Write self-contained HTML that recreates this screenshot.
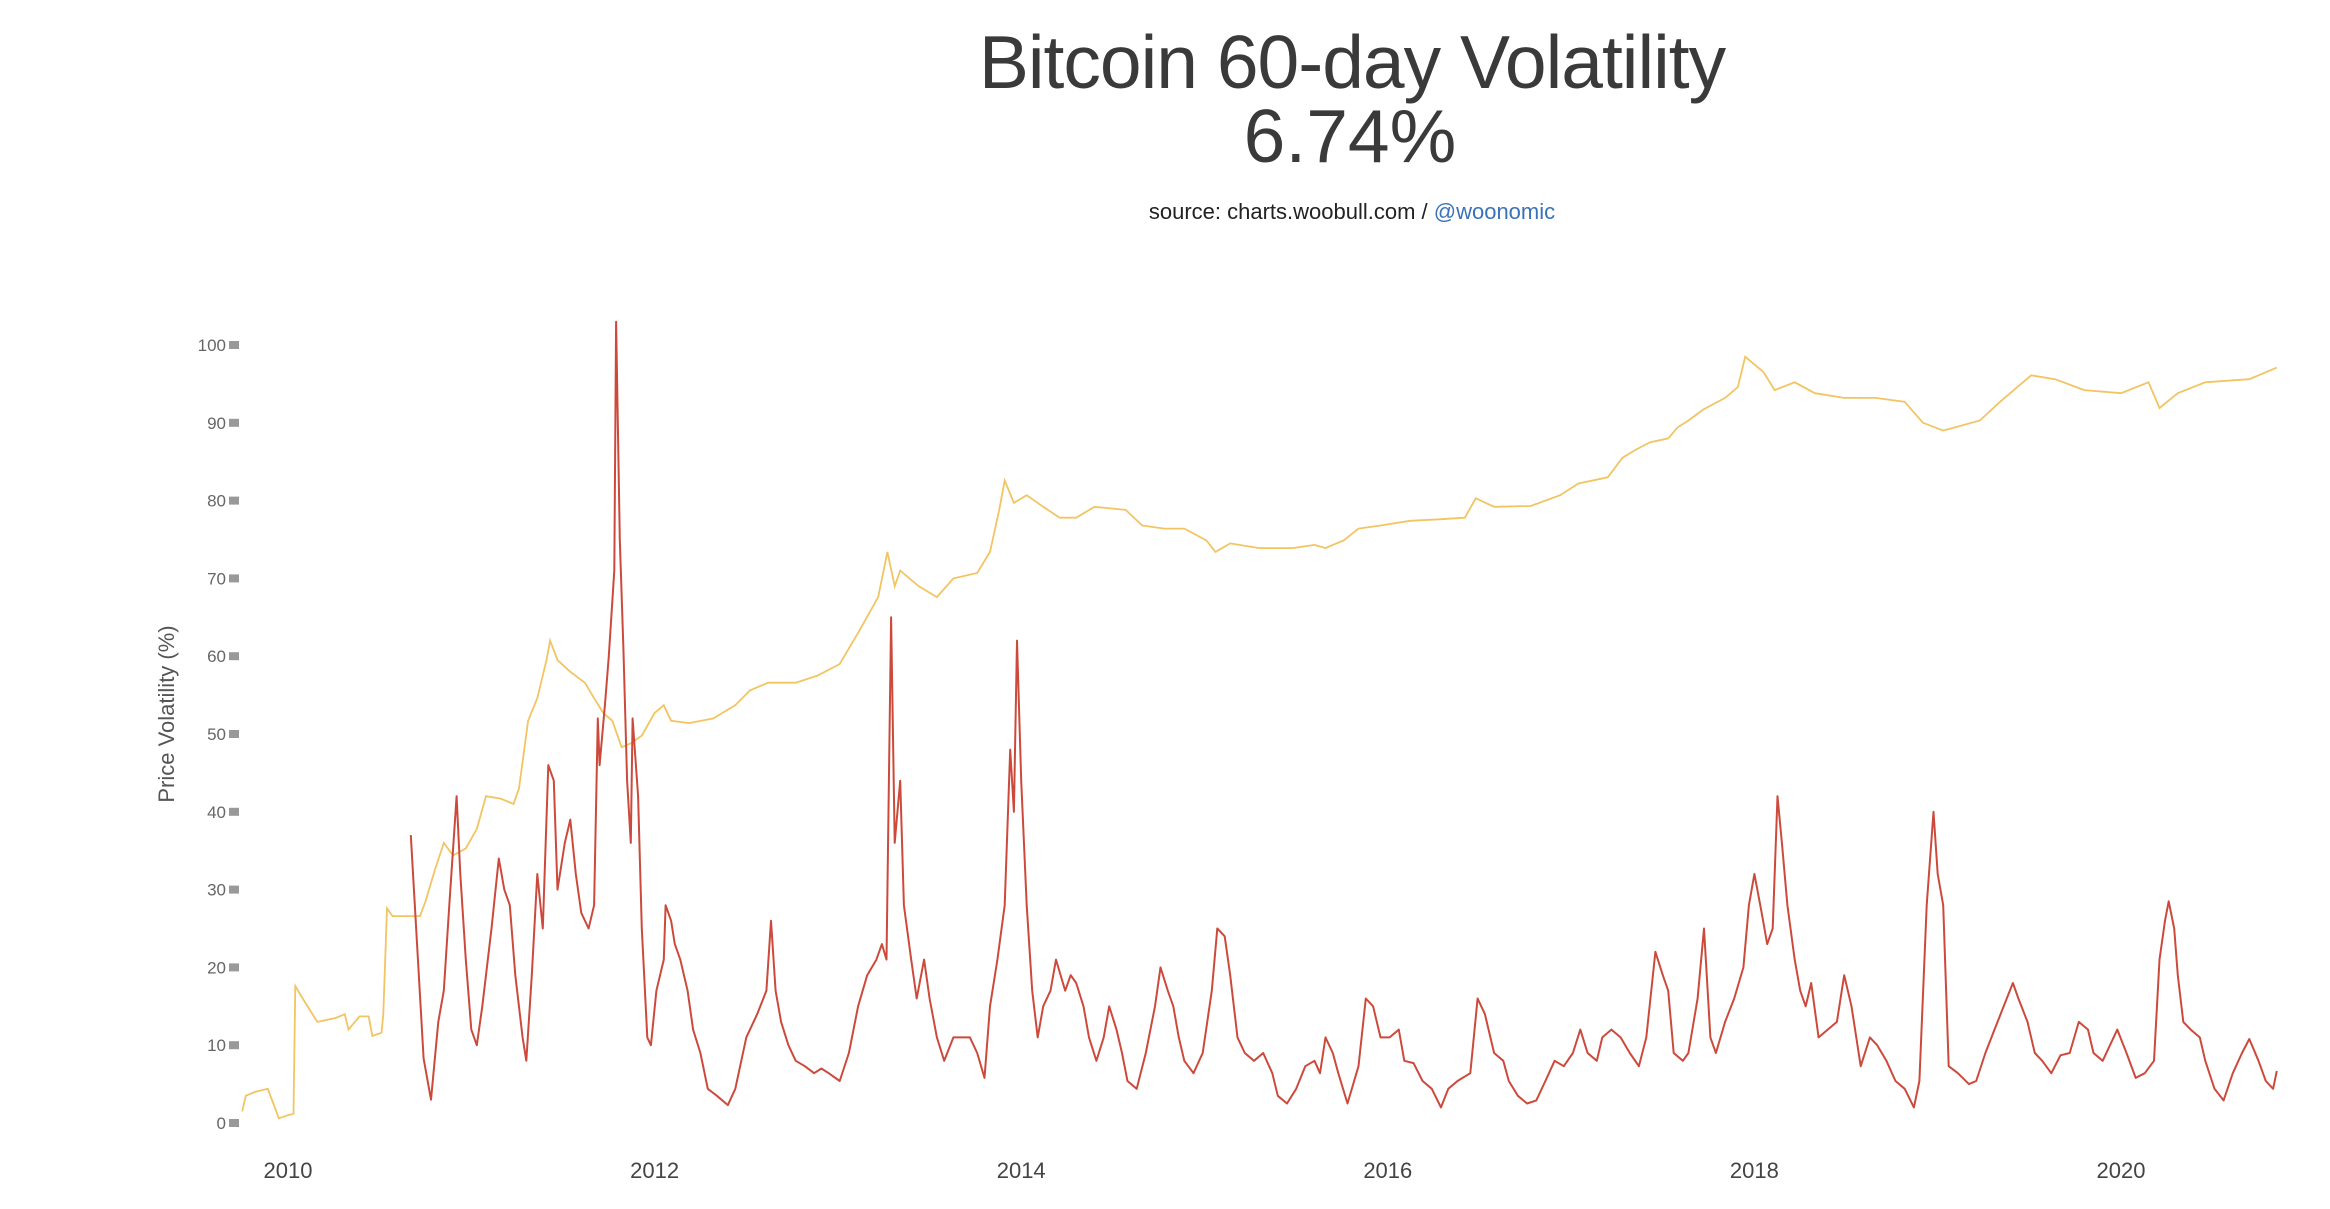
<!DOCTYPE html>
<html><head><meta charset="utf-8"><style>
body{margin:0;background:#fff;width:2330px;height:1204px;overflow:hidden;font-family:"Liberation Sans",sans-serif}
</style></head><body>
<svg width="2330" height="1204">
<text x="1352" y="88" text-anchor="middle" font-size="75" fill="#3a3a3a" style="letter-spacing:-1px">Bitcoin 60-day Volatility</text>
<text x="1350" y="162" text-anchor="middle" font-size="75" fill="#3a3a3a">6.74%</text>
<text x="1352" y="219" text-anchor="middle" font-size="22" fill="#222">source: charts.woobull.com / <tspan fill="#3a72b8">@woonomic</tspan></text>
<text transform="translate(174,714) rotate(-90)" text-anchor="middle" font-size="22" fill="#555">Price Volatility (%)</text>
<g id="yaxis"></g>
<g id="xaxis"></g>
<path id="yellow" fill="none" stroke="#f2c462" stroke-width="1.8"/>
<path id="red" fill="none" stroke="#cc4a3c" stroke-width="2" stroke-linejoin="round"/>
</svg>
<script>
const yTicks=[0,10,20,30,40,50,60,70,80,90,100];
const xTicks=[2010,2012,2014,2016,2018,2020];
const redDates=[2010.67,2010.74,2010.78,2010.82,2010.85,2010.88,2010.92,2010.94,2010.97,2011.00,2011.03,2011.06,2011.11,2011.15,2011.18,2011.21,2011.24,2011.28,2011.30,2011.33,2011.36,2011.39,2011.42,2011.45,2011.47,2011.51,2011.54,2011.57,2011.60,2011.64,2011.67,2011.69,2011.70,2011.73,2011.75,2011.78,2011.79,2011.81,2011.83,2011.85,2011.87,2011.88,2011.91,2011.93,2011.96,2011.98,2012.01,2012.05,2012.06,2012.09,2012.11,2012.14,2012.18,2012.21,2012.25,2012.29,2012.34,2012.40,2012.44,2012.50,2012.56,2012.61,2012.635,2012.66,2012.69,2012.73,2012.77,2012.82,2012.87,2012.91,2012.95,2013.01,2013.06,2013.11,2013.16,2013.21,2013.24,2013.265,2013.29,2013.31,2013.34,2013.36,2013.40,2013.43,2013.47,2013.50,2013.54,2013.58,2013.63,2013.67,2013.72,2013.76,2013.80,2013.83,2013.87,2013.91,2013.94,2013.96,2013.977,2014.00,2014.03,2014.06,2014.09,2014.12,2014.16,2014.19,2014.24,2014.27,2014.30,2014.34,2014.37,2014.41,2014.45,2014.48,2014.52,2014.55,2014.58,2014.63,2014.68,2014.73,2014.76,2014.80,2014.83,2014.86,2014.89,2014.94,2014.99,2015.04,2015.07,2015.11,2015.14,2015.18,2015.22,2015.27,2015.32,2015.37,2015.40,2015.45,2015.50,2015.55,2015.60,2015.63,2015.66,2015.70,2015.73,2015.78,2015.84,2015.88,2015.92,2015.96,2016.01,2016.06,2016.09,2016.14,2016.19,2016.24,2016.29,2016.33,2016.38,2016.45,2016.49,2016.53,2016.58,2016.63,2016.66,2016.71,2016.76,2016.81,2016.86,2016.91,2016.96,2017.01,2017.05,2017.09,2017.14,2017.17,2017.22,2017.27,2017.32,2017.37,2017.41,2017.46,2017.50,2017.53,2017.56,2017.61,2017.64,2017.69,2017.725,2017.76,2017.79,2017.84,2017.89,2017.94,2017.97,2018.00,2018.04,2018.07,2018.10,2018.126,2018.15,2018.18,2018.22,2018.25,2018.28,2018.31,2018.35,2018.40,2018.45,2018.49,2018.53,2018.58,2018.63,2018.67,2018.72,2018.77,2018.82,2018.87,2018.90,2018.94,2018.977,2019.00,2019.03,2019.06,2019.11,2019.17,2019.21,2019.26,2019.31,2019.36,2019.41,2019.44,2019.49,2019.53,2019.57,2019.62,2019.67,2019.72,2019.77,2019.82,2019.85,2019.90,2019.94,2019.98,2020.03,2020.08,2020.13,2020.18,2020.21,2020.24,2020.26,2020.29,2020.31,2020.34,2020.38,2020.43,2020.46,2020.51,2020.56,2020.61,2020.66,2020.70,2020.75,2020.79,2020.83,2020.85];
const redValues=[37,8.3,3,13,17,28,42,32,21,12,10,15,25,34,30,28,19,11,8,19,32,25,46,44,30,36,39,32,27,25,28,52,46,54,60,71,103,75,61,44,36,52,42,25,11,10,17,21,28,26,23,21,17,12,9,4.4,3.5,2.3,4.4,11,14,17,26,17,13,10,8,7.3,6.4,7,6.4,5.4,9,15,19,21,23,21,65,36,44,28,21,16,21,16,11,8,11,11,11,9,5.8,15,21,28,48,40,62,44,28,17,11,15,17,21,17,19,18,15,11,8,11,15,12,9,5.4,4.4,9,15,20,17,15,11,8,6.4,9,17,25,24,19,11,9,8,9,6.4,3.5,2.5,4.4,7.3,8,6.4,11,9,6.4,2.5,7.3,16,15,11,11,12,8,7.7,5.4,4.4,2,4.4,5.4,6.4,16,14,9,8,5.4,3.5,2.5,2.9,5.4,8,7.3,9,12,9,8,11,12,11,9,7.3,11,22,19,17,9,8,9,16,25,11,9,13,16,20,28,32,27,23,25,42,36,28,21,17,15,18,11,12,13,19,15,7.3,11,10,8,5.4,4.4,2,5.4,28,40,32,28,7.3,6.4,5,5.4,9,12,15,18,16,13,9,8,6.4,8.7,9,13,12,9,8,10,12,9,5.8,6.4,8,21,26,28.5,25,19,13,12,11,8,4.4,2.9,6.4,9,10.8,8,5.4,4.4,6.7];
const yelDates=[2009.75,2009.77,2009.82,2009.89,2009.92,2009.95,2010.00,2010.03,2010.04,2010.08,2010.16,2010.26,2010.31,2010.33,2010.39,2010.44,2010.46,2010.51,2010.52,2010.54,2010.57,2010.64,2010.72,2010.75,2010.80,2010.85,2010.90,2010.97,2011.03,2011.08,2011.16,2011.23,2011.26,2011.31,2011.36,2011.41,2011.43,2011.47,2011.54,2011.62,2011.67,2011.72,2011.77,2011.82,2011.87,2011.93,2012.00,2012.05,2012.09,2012.19,2012.32,2012.44,2012.52,2012.62,2012.77,2012.89,2013.01,2013.11,2013.22,2013.27,2013.31,2013.34,2013.44,2013.54,2013.63,2013.76,2013.83,2013.88,2013.91,2013.96,2014.03,2014.12,2014.21,2014.30,2014.40,2014.57,2014.66,2014.78,2014.89,2015.01,2015.06,2015.14,2015.30,2015.48,2015.60,2015.66,2015.76,2015.84,2015.96,2016.12,2016.28,2016.42,2016.48,2016.58,2016.78,2016.94,2017.04,2017.20,2017.28,2017.35,2017.43,2017.53,2017.58,2017.64,2017.72,2017.84,2017.91,2017.95,2017.99,2018.05,2018.11,2018.22,2018.33,2018.49,2018.66,2018.82,2018.92,2019.03,2019.23,2019.34,2019.51,2019.64,2019.80,2020.00,2020.15,2020.21,2020.31,2020.46,2020.70,2020.85];
const yelValues=[1.5,3.5,4,4.4,2.5,0.6,1,1.2,17.6,16,13,13.5,14,12,13.7,13.7,11.2,11.6,14,27.6,26.6,26.6,26.6,28.5,32.4,36,34.4,35.3,37.8,42,41.7,41,43,51.7,54.6,59.5,62,59.5,58,56.6,54.6,52.7,51.7,48.3,48.8,49.8,52.7,53.7,51.7,51.4,52,53.7,55.6,56.6,56.6,57.5,59,63,67.6,73.4,69,71,69,67.6,70,70.7,73.4,78.8,82.6,79.7,80.7,79.2,77.8,77.8,79.2,78.8,76.8,76.4,76.4,74.9,73.4,74.5,73.9,73.9,74.3,73.9,74.9,76.4,76.8,77.4,77.6,77.8,80.3,79.2,79.3,80.7,82.2,83,85.5,86.5,87.5,88,89.4,90.3,91.7,93.2,94.6,98.5,97.7,96.5,94.2,95.2,93.8,93.2,93.2,92.7,90,89,90.3,92.7,96.1,95.6,94.2,93.8,95.2,91.9,93.8,95.2,95.6,97.1];
const X=t=>288+(t-2010)*183.3, Y=v=>1123-v*7.78;
const NS='http://www.w3.org/2000/svg';
const ya=document.getElementById('yaxis'), xa=document.getElementById('xaxis');
yTicks.forEach(v=>{
 const t=document.createElementNS(NS,'text');
 
 
 t.setAttribute('x',226);t.setAttribute('y',Y(v)+6);t.setAttribute('text-anchor','end');
 t.setAttribute('font-size','17');t.setAttribute('fill','#666');t.textContent=v;ya.appendChild(t);
 const r=document.createElementNS(NS,'rect');
 
 
 r.setAttribute('x',229);r.setAttribute('y',Y(v)-4);r.setAttribute('width',10);r.setAttribute('height',8);r.setAttribute('fill','#999');ya.appendChild(r);
});
xTicks.forEach(v=>{
 const t=document.createElementNS(NS,'text');
 
 
 t.setAttribute('x',X(v));t.setAttribute('y',1178);t.setAttribute('text-anchor','middle');
 t.setAttribute('font-size','22');t.setAttribute('fill','#444');t.textContent=v;xa.appendChild(t);
});
const path=(d,v)=>d.map((t,i)=>(i?'L':'M')+X(t).toFixed(1)+','+Y(v[i]).toFixed(1)).join('');
document.getElementById('yellow').setAttribute('d',path(yelDates,yelValues));
document.getElementById('red').setAttribute('d',path(redDates,redValues));
</script>
</body></html>
